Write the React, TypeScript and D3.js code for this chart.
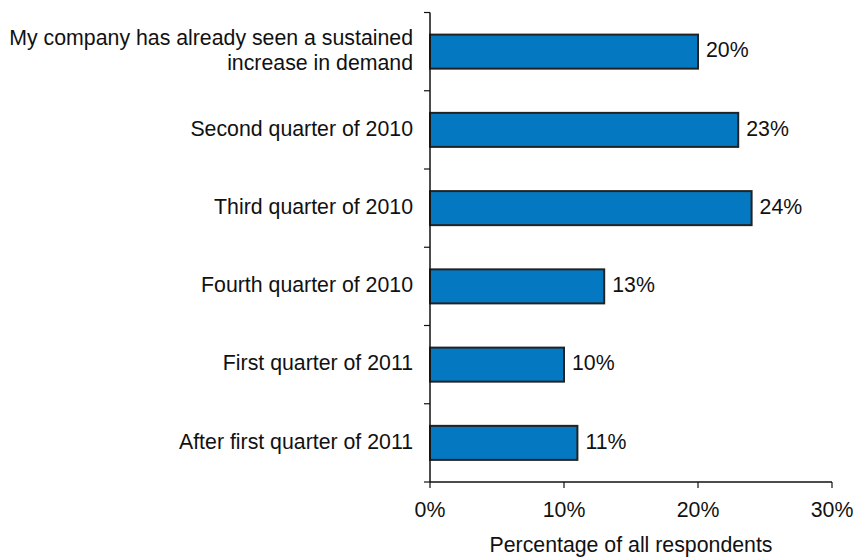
import React from "react";
import * as d3 from "d3";

const categories: string[][] = [
  ["My company has already seen a sustained", "increase in demand"],
  ["Second quarter of 2010"],
  ["Third quarter of 2010"],
  ["Fourth quarter of 2010"],
  ["First quarter of 2011"],
  ["After first quarter of 2011"],
];
const values = [20, 23, 24, 13, 10, 11];
const xTicks = [0, 10, 20, 30];
const xTitle = "Percentage of all respondents";

const W = 858;
const H = 558;
const left = 430;
const right = 832;
const top = 12.5;
const bottom = 482;
const font = "'Liberation Sans', Arial, sans-serif";
const fs = 21.3;

export default function App() {
  const x = d3.scaleLinear().domain([0, 30]).range([left, right]);
  const y = d3
    .scaleBand<number>()
    .domain(d3.range(categories.length))
    .range([top, bottom])
    .paddingInner(0.565)
    .paddingOuter(0.2825);
  const step = (bottom - top) / categories.length;
  const tickYs = d3.range(categories.length + 1).map((i) => top + i * step);

  return (
    <svg
      width={W}
      height={H}
      style={{ position: "absolute", left: 0, top: 0, background: "#fff" }}
      fontFamily={font}
    >
      {values.map((v, i) => {
        const by = y(i)!;
        const bh = y.bandwidth();
        const cy = by + bh / 2;
        const lines = categories[i];
        const lh = 25;
        return (
          <g key={i}>
            <rect
              x={x(0)}
              y={by}
              width={x(v) - x(0)}
              height={bh}
              fill="#0479C1"
              stroke="#222"
              strokeWidth={2}
            />
            <text x={x(v) + 8} y={cy - 2} dy="0.36em" fontSize={fs} fill="#111">
              {v}%
            </text>
            {lines.map((l, j) => (
              <text
                key={j}
                x={413}
                y={cy - 2 + (j - (lines.length - 1) / 2) * lh}
                dy="0.36em"
                textAnchor="end"
                fontSize={fs}
                fill="#111"
              >
                {l}
              </text>
            ))}
          </g>
        );
      })}
      <line x1={left} x2={left} y1={top} y2={bottom} stroke="#111" strokeWidth={1.5} />
      {tickYs.map((ty, i) => (
        <line key={i} x1={left - 6} x2={left} y1={ty} y2={ty} stroke="#111" strokeWidth={1.2} />
      ))}
      <line x1={left} x2={right} y1={bottom} y2={bottom} stroke="#111" strokeWidth={1.5} />
      {xTicks.map((t) => (
        <g key={t}>
          <line x1={x(t)} x2={x(t)} y1={bottom} y2={bottom + 6} stroke="#111" strokeWidth={1.2} />
          <text x={x(t)} y={517} textAnchor="middle" fontSize={fs} fill="#111">
            {t}%
          </text>
        </g>
      ))}
      <text x={(left + right) / 2} y={552} textAnchor="middle" fontSize={fs} fill="#111">
        {xTitle}
      </text>
    </svg>
  );
}
